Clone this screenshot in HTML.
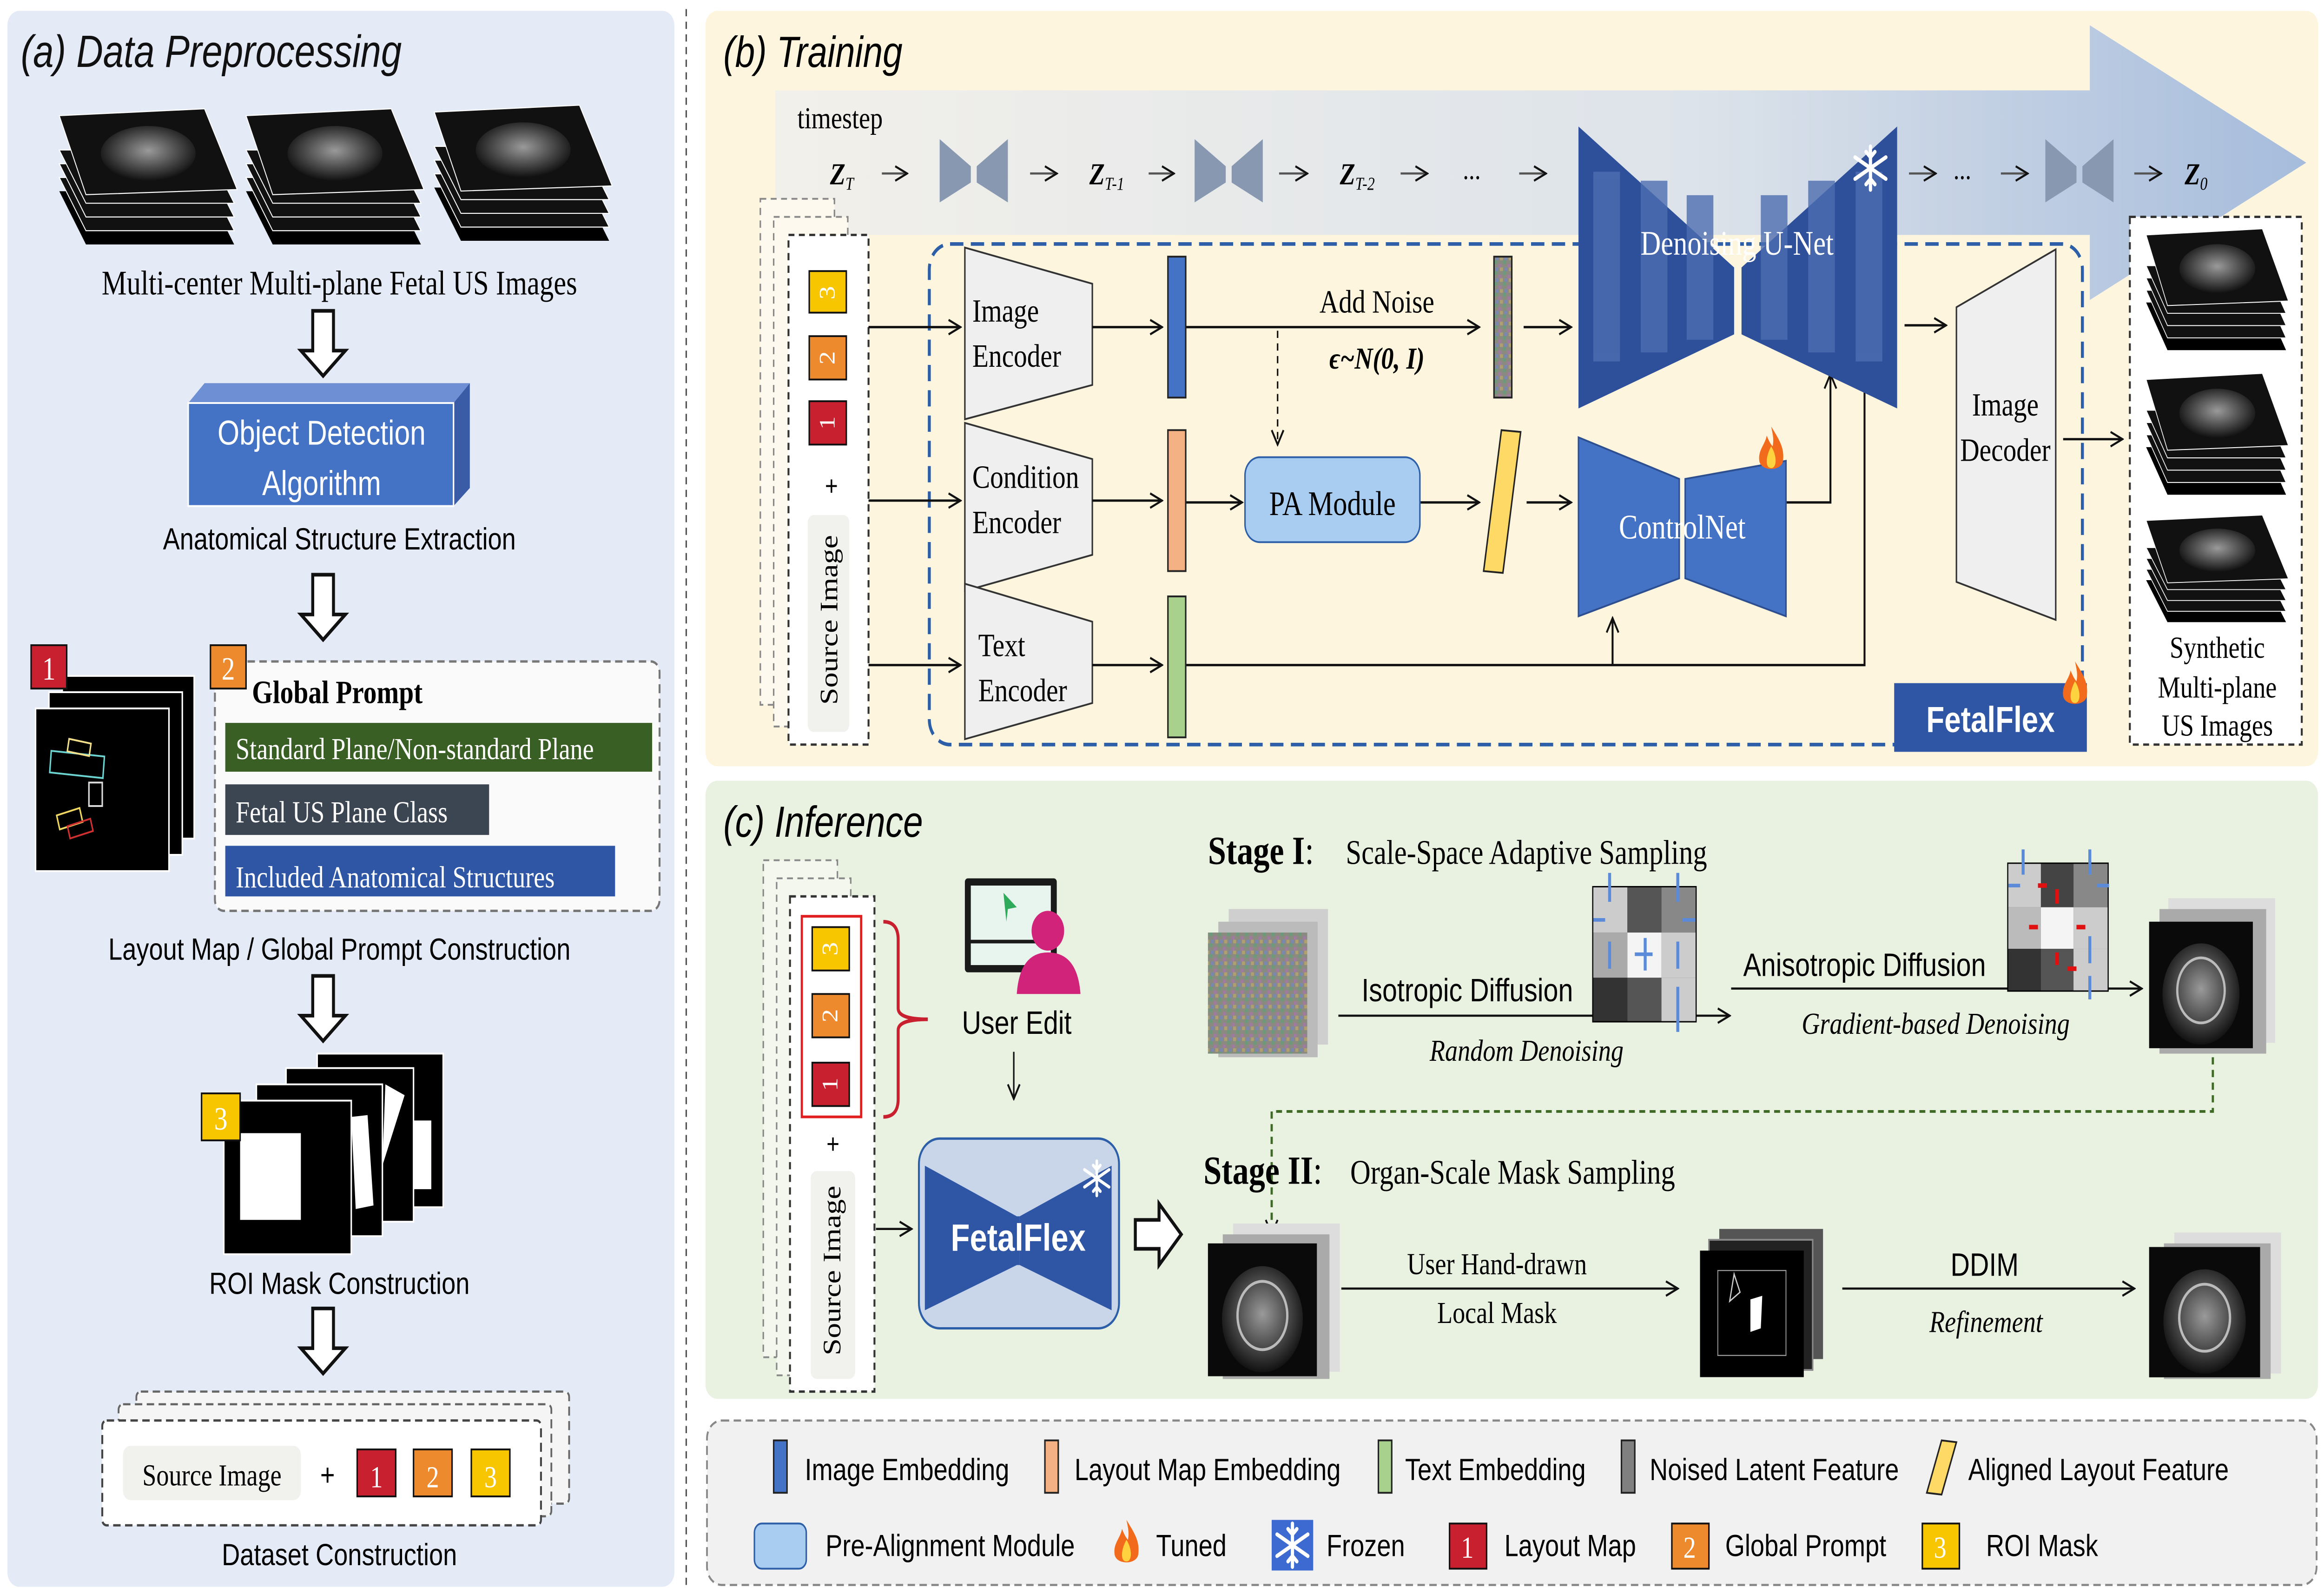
<!DOCTYPE html>
<html><head><meta charset="utf-8"><style>
html,body{margin:0;padding:0;background:#fff;width:100%;height:100%;overflow:hidden;}
svg#main{position:fixed;left:0;top:0;display:block;width:100vw;height:100vh;}
.s{font-family:"Liberation Sans",sans-serif;}
.r{font-family:"Liberation Serif",serif;}
</style></head><body>
<svg id="main" viewBox="0 0 1568 882" preserveAspectRatio="none" xmlns="http://www.w3.org/2000/svg">
<defs>
<radialGradient id="us" cx="50%" cy="45%" r="55%"><stop offset="0" stop-color="#9a9a9a"/><stop offset="0.5" stop-color="#555"/><stop offset="1" stop-color="#111"/></radialGradient>
<linearGradient id="big" x1="0" x2="1" y1="0" y2="0"><stop offset="0" stop-color="#f2f0ea"/><stop offset="0.6" stop-color="#dde3ea"/><stop offset="1" stop-color="#a6bcdc"/></linearGradient>
<pattern id="noise" width="6" height="6" patternUnits="userSpaceOnUse"><rect width="6" height="6" fill="#8a8a80"/><rect width="2" height="2" fill="#6a9a7a"/><rect x="3" y="2" width="2" height="2" fill="#a07aa0"/><rect x="1" y="4" width="2" height="2" fill="#7a88b0"/><rect x="4" y="4" width="2" height="2" fill="#b0a070"/></pattern>
<marker id="ar" markerWidth="10" markerHeight="10" refX="9" refY="5" orient="auto" markerUnits="userSpaceOnUse"><path d="M1,1 L9,5 L1,9" fill="none" stroke="#111" stroke-width="1.2"/></marker>
<g id="hollow"><path d="M-7,0 H7 V22 H15 L0,36 L-15,22 H-7 Z" fill="#fff" stroke="#111" stroke-width="2"/></g>
<g id="usimg"><rect width="70" height="70" fill="#0a0a0a"/><ellipse cx="35" cy="40" rx="26" ry="28" fill="url(#us)"/><ellipse cx="35" cy="38" rx="16" ry="18" fill="none" stroke="#bbb" stroke-width="1.5"/></g>
<g id="stackA"><path d="M0,44 L100,44 L118,75 L18,75 Z" fill="#000"/><path d="M0,36 L100,36 L118,67 L18,67 Z" fill="#111" stroke="#fff" stroke-width="0.6"/><path d="M0,28 L100,28 L118,59 L18,59 Z" fill="#111" stroke="#fff" stroke-width="0.6"/><path d="M0,20 L100,20 L118,51 L18,51 Z" fill="#111" stroke="#fff" stroke-width="0.6"/><path d="M0,0 L98,-4 L120,43 L18,46 Z" fill="#111" stroke="#fff" stroke-width="0.6"/><ellipse cx="60" cy="22" rx="32" ry="16" fill="url(#us)"/></g>
<g id="flame"><path d="M0,-14 C6,-6 9,-2 8,5 C7,11 -7,11 -8,5 C-9,-1 -4,-4 -3,-9 C-1,-5 0,-4 1,-3 C2,-7 1,-10 0,-14 Z" fill="#f26a1b"/><path d="M0,-3 C4,2 4,9 0,9 C-4,9 -4,3 0,-3 Z" fill="#ffd23f"/></g>
<g id="snow" stroke="#fff" stroke-width="2.2" stroke-linecap="round"><line x1="0" y1="-12" x2="0" y2="12"/><line x1="-10.4" y1="-6" x2="10.4" y2="6"/><line x1="-10.4" y1="6" x2="10.4" y2="-6"/><path d="M-3,-9 L0,-6 L3,-9 M-3,9 L0,6 L3,9" fill="none"/></g>
</defs>
<rect width="1568" height="882" fill="#fff"/>

<!-- ===== Panel A ===== -->
<rect x="5" y="6" width="450" height="872" rx="8" fill="#e4ebf7"/>
<line x1="463" y1="5" x2="463" y2="878" stroke="#555" stroke-width="1" stroke-dasharray="4,3"/>
<text x="14" y="37" class="s" font-size="25" font-style="italic" fill="#111">(a) Data Preprocessing</text>
<g transform="translate(40,64) scale(1,0.95)"><use href="#stackA"/></g>
<g transform="translate(166,64) scale(1,0.95)"><use href="#stackA"/></g>
<g transform="translate(293,62) scale(1,0.95)"><use href="#stackA"/></g>
<text x="229" y="163" class="r" font-size="19" text-anchor="middle">Multi-center Multi-plane Fetal US Images</text>
<use href="#hollow" x="218" y="172"/>
<path d="M127,223 L138,212 L317,212 L306,223 Z" fill="#6f8fd4"/>
<path d="M306,223 L317,212 L317,270 L306,280 Z" fill="#3a5ba5"/>
<rect x="127" y="223" width="179" height="57" fill="#4472c4" stroke="#fff" stroke-width="1"/>
<text x="217" y="246" class="s" font-size="19" fill="#fff" text-anchor="middle">Object Detection</text>
<text x="217" y="274" class="s" font-size="19" fill="#fff" text-anchor="middle">Algorithm</text>
<text x="229" y="304" class="s" font-size="17" text-anchor="middle">Anatomical Structure Extraction</text>
<use href="#hollow" x="218" y="318"/>
<!-- layout map -->
<rect x="42" y="374" width="89" height="90" fill="#000" stroke="#fff"/>
<rect x="33" y="383" width="90" height="90" fill="#000" stroke="#fff"/>
<rect x="24" y="392" width="90" height="90" fill="#000" stroke="#fff"/>
<rect x="34" y="417" width="36" height="12" fill="none" stroke="#6cd4d0" stroke-width="1" transform="rotate(5 52 423)"/>
<rect x="46" y="410" width="15" height="7" fill="none" stroke="#f4e08a" stroke-width="1" transform="rotate(10 53 413)"/>
<rect x="39" y="449" width="16" height="8" fill="none" stroke="#f0d860" stroke-width="1" transform="rotate(-15 47 453)"/>
<rect x="46" y="455" width="16" height="7" fill="none" stroke="#d03030" stroke-width="1" transform="rotate(-15 54 458)"/>
<rect x="60" y="433" width="9" height="13" fill="none" stroke="#ddd" stroke-width="1"/>
<rect x="21" y="357" width="24" height="24" fill="#c8202f" stroke="#111"/>
<text x="33" y="376" class="r" font-size="18" fill="#fff" text-anchor="middle">1</text>
<!-- global prompt -->
<rect x="145" y="366" width="300" height="138" rx="6" fill="#fafafa" stroke="#777" stroke-width="1.3" stroke-dasharray="5,3"/>
<rect x="142" y="357" width="24" height="24" fill="#ee8a2e" stroke="#111"/>
<text x="154" y="376" class="r" font-size="18" fill="#fff" text-anchor="middle">2</text>
<text x="170" y="389" class="r" font-size="18" font-weight="bold">Global  Prompt</text>
<rect x="152" y="400" width="288" height="27" fill="#3a5f24"/>
<text x="159" y="420" class="r" font-size="17" fill="#fff">Standard Plane/Non-standard Plane</text>
<rect x="152" y="434" width="178" height="28" fill="#3c4552"/>
<text x="159" y="455" class="r" font-size="17" fill="#fff">Fetal US Plane Class</text>
<rect x="152" y="468" width="263" height="28" fill="#2f55a5"/>
<text x="159" y="491" class="r" font-size="17" fill="#fff">Included Anatomical Structures</text>
<text x="229" y="531" class="s" font-size="17" text-anchor="middle">Layout Map / Global Prompt Construction</text>
<use href="#hollow" x="218" y="540"/>
<!-- ROI -->
<rect x="214" y="583" width="85" height="85" fill="#000" stroke="#fff"/>
<rect x="279" y="620" width="12" height="38" fill="#fff"/>
<rect x="193" y="591" width="86" height="85" fill="#000" stroke="#fff"/>
<path d="M260,600 L273,606 L258,645 Z" fill="#fff"/>
<rect x="173" y="600" width="85" height="84" fill="#000" stroke="#fff"/>
<path d="M237,618 L248,617 L252,667 L240,669 Z" fill="#fff"/>
<rect x="151" y="609" width="86" height="85" fill="#000" stroke="#fff"/>
<rect x="162" y="627" width="41" height="48" fill="#fff"/>
<rect x="136" y="605" width="26" height="26" fill="#f7c600" stroke="#111"/>
<text x="149" y="625" class="r" font-size="18" fill="#fff" text-anchor="middle">3</text>
<text x="229" y="716" class="s" font-size="17" text-anchor="middle">ROI Mask Construction</text>
<use href="#hollow" x="218" y="724"/>
<!-- dataset -->
<rect x="92" y="770" width="292" height="62" rx="3" fill="#f5f5f5" stroke="#666" stroke-width="1.2" stroke-dasharray="5,3"/>
<rect x="80" y="777" width="292" height="62" rx="3" fill="#f5f5f5" stroke="#666" stroke-width="1.2" stroke-dasharray="5,3"/>
<rect x="69" y="786" width="296" height="58" rx="3" fill="#fff" stroke="#444" stroke-width="1.3" stroke-dasharray="5,3"/>
<rect x="83" y="800" width="120" height="30" rx="5" fill="#f1f1ee"/>
<text x="143" y="822" class="r" font-size="17" text-anchor="middle">Source Image</text>
<text x="221" y="822" class="s" font-size="17" text-anchor="middle">+</text>
<rect x="241" y="802" width="26" height="26" fill="#c8202f" stroke="#111"/><text x="254" y="823" class="r" font-size="17" fill="#fff" text-anchor="middle">1</text>
<rect x="279" y="802" width="26" height="26" fill="#ee8a2e" stroke="#111"/><text x="292" y="823" class="r" font-size="17" fill="#fff" text-anchor="middle">2</text>
<rect x="318" y="802" width="26" height="26" fill="#f7c600" stroke="#111"/><text x="331" y="823" class="r" font-size="17" fill="#fff" text-anchor="middle">3</text>
<text x="229" y="866" class="s" font-size="17" text-anchor="middle">Dataset Construction</text>

<!-- ===== Panel B ===== -->
<rect x="476" y="6" width="1088" height="418" rx="8" fill="#fdf5de"/>
<polygon points="523,50 1410,50 1410,14 1556,90 1410,166 1410,130 523,130" fill="url(#big)"/>
<text x="488" y="37" class="s" font-size="24" font-style="italic">(b) Training</text>
<text x="538" y="71" class="r" font-size="17">timestep</text>
<g class="r" font-size="17" font-weight="bold" font-style="italic">
<text x="560" y="102">Z<tspan font-size="10" font-weight="normal" dy="3">T</tspan></text>
<text x="735" y="102">Z<tspan font-size="10" font-weight="normal" dy="3">T-1</tspan></text>
<text x="904" y="102">Z<tspan font-size="10" font-weight="normal" dy="3">T-2</tspan></text>
<text x="1474" y="102">Z<tspan font-size="10" font-weight="normal" dy="3">0</tspan></text>
</g>
<text x="987" y="99" class="r" font-size="16">...</text>
<text x="1318" y="99" class="r" font-size="16">...</text>
<g stroke="#555" stroke-width="1.2" fill="none" marker-end="url(#ar)">
<line x1="595" y1="96" x2="612" y2="96"/><line x1="695" y1="96" x2="713" y2="96"/><line x1="775" y1="96" x2="792" y2="96"/><line x1="863" y1="96" x2="882" y2="96"/><line x1="945" y1="96" x2="963" y2="96"/><line x1="1025" y1="96" x2="1043" y2="96"/><line x1="1288" y1="96" x2="1306" y2="96"/><line x1="1350" y1="96" x2="1368" y2="96"/><line x1="1440" y1="96" x2="1458" y2="96"/>
</g>
<g fill="#8798b0">
<polygon points="634,77 655,92 655,101 634,112"/><polygon points="659,92 680,77 680,112 659,101"/>
<polygon points="806,77 827,92 827,101 806,112"/><polygon points="831,92 852,77 852,112 831,101"/>
<polygon points="1380,77 1401,92 1401,101 1380,112"/><polygon points="1405,92 1426,77 1426,112 1405,101"/>
</g>
<!-- source stack -->
<rect x="513" y="110" width="50" height="280" fill="#fdf9ee" stroke="#888" stroke-dasharray="4,3"/>
<rect x="522" y="120" width="50" height="282" fill="#fdf9ee" stroke="#888" stroke-dasharray="4,3"/>
<rect x="532" y="130" width="54" height="282" fill="#fff" stroke="#333" stroke-width="1.3" stroke-dasharray="4,3"/>
<rect x="546" y="150" width="25" height="23" fill="#f7c600" stroke="#111"/><text x="558" y="162" class="r" font-size="15" fill="#fff" text-anchor="middle" transform="rotate(-90 558 162)" dy="5">3</text>
<rect x="546" y="186" width="25" height="24" fill="#ee8a2e" stroke="#111"/><text x="558" y="198" class="r" font-size="15" fill="#fff" text-anchor="middle" transform="rotate(-90 558 198)" dy="5">2</text>
<rect x="546" y="222" width="25" height="24" fill="#c8202f" stroke="#111"/><text x="558" y="234" class="r" font-size="15" fill="#fff" text-anchor="middle" transform="rotate(-90 558 234)" dy="5">1</text>
<text x="561" y="274" class="s" font-size="15" text-anchor="middle">+</text>
<rect x="545" y="285" width="28" height="120" rx="4" fill="#f1f1ee"/>
<text x="565" y="343" class="r" font-size="17" text-anchor="middle" transform="rotate(-90 565 343)">Source Image</text>
<rect x="627" y="135" width="778" height="277" rx="14" fill="none" stroke="#2d5fa8" stroke-width="2" stroke-dasharray="9,5"/>
<!-- encoders -->
<g fill="#efefef" stroke="#333" stroke-width="1">
<polygon points="651,137 737,157 737,213 651,232"/>
<polygon points="651,234 737,254 737,307 651,327"/>
<polygon points="651,323 737,344 737,389 651,409"/>
</g>
<g class="r" font-size="18">
<text x="656" y="178">Image</text><text x="656" y="203">Encoder</text>
<text x="656" y="270">Condition</text><text x="656" y="295">Encoder</text>
<text x="660" y="363">Text</text><text x="660" y="388">Encoder</text>
</g>
<g stroke="#111" stroke-width="1.3" fill="none" marker-end="url(#ar)">
<line x1="586" y1="181" x2="648" y2="181"/><line x1="586" y1="277" x2="648" y2="277"/><line x1="586" y1="368" x2="648" y2="368"/>
<line x1="737" y1="181" x2="784" y2="181"/><line x1="737" y1="277" x2="784" y2="277"/><line x1="737" y1="368" x2="784" y2="368"/>
<line x1="800" y1="181" x2="998" y2="181"/>
<line x1="1028" y1="181" x2="1060" y2="181"/>
<line x1="800" y1="278" x2="838" y2="278"/>
<line x1="958" y1="278" x2="998" y2="278"/>
<line x1="1030" y1="278" x2="1060" y2="278"/>
<polyline points="1205,278 1235,278 1235,207"/>
<polyline points="800,368 1258,368 1258,207"/>
<line x1="1088" y1="368" x2="1088" y2="342"/>
<line x1="1285" y1="180" x2="1313" y2="180"/>
<line x1="1392" y1="243" x2="1432" y2="243"/>
</g>
<line x1="862" y1="183" x2="862" y2="246" stroke="#111" stroke-width="1" stroke-dasharray="4,3" marker-end="url(#ar)"/>
<rect x="788" y="142" width="12" height="78" fill="#4472c4" stroke="#222"/>
<rect x="788" y="238" width="12" height="78" fill="#f4b183" stroke="#222"/>
<rect x="788" y="330" width="12" height="78" fill="#a9d18e" stroke="#222"/>
<rect x="1008" y="142" width="12" height="78" fill="url(#noise)" stroke="#222"/>
<text x="929" y="173" class="r" font-size="18" text-anchor="middle">Add Noise</text>
<text x="929" y="204" class="r" font-size="17" font-weight="bold" font-style="italic" text-anchor="middle">ϵ~N(0, I)</text>
<rect x="840" y="253" width="118" height="47" rx="10" fill="#a9cdf0" stroke="#2d5fa8"/>
<text x="899" y="285" class="r" font-size="19" text-anchor="middle">PA Module</text>
<polygon points="1013,238 1026,239 1014,317 1001,316" fill="#ffd966" stroke="#222"/>
<!-- UNet -->
<polygon points="1065,70 1170,148 1170,185 1065,226" fill="#2e4f9a"/>
<polygon points="1175,148 1280,70 1280,226 1175,185" fill="#2e4f9a"/>
<g fill="#4d6eb0" opacity="0.8">
<rect x="1075" y="95" width="18" height="105"/><rect x="1107" y="100" width="18" height="95"/><rect x="1138" y="108" width="18" height="80"/>
<rect x="1188" y="108" width="18" height="80"/><rect x="1220" y="100" width="18" height="95"/><rect x="1252" y="95" width="18" height="105"/>
</g>
<text x="1172" y="141" class="r" font-size="19" fill="#fff" text-anchor="middle">Denoising U-Net</text>
<use href="#snow" x="1262" y="93"/>
<!-- ControlNet -->
<polygon points="1065,242 1133,265 1133,320 1065,341" fill="#4472c4" stroke="#2d4f90"/>
<polygon points="1137,265 1205,255 1205,341 1137,320" fill="#4472c4" stroke="#2d4f90"/>
<text x="1135" y="298" class="r" font-size="19" fill="#fff" text-anchor="middle">ControlNet</text>
<use href="#flame" x="1195" y="250"/>
<!-- decoder -->
<polygon points="1320,170 1387,138 1387,343 1320,322" fill="#efefef" stroke="#333"/>
<text x="1353" y="230" class="r" font-size="18" text-anchor="middle">Image</text>
<text x="1353" y="255" class="r" font-size="18" text-anchor="middle">Decoder</text>
<rect x="1278" y="378" width="130" height="38" fill="#2f55a5"/>
<text x="1343" y="405" class="s" font-size="20" font-weight="bold" fill="#fff" text-anchor="middle">FetalFlex</text>
<use href="#flame" x="1400" y="380"/>
<!-- synthetic -->
<rect x="1437" y="120" width="116" height="292" fill="#fff" stroke="#333" stroke-width="1.3" stroke-dasharray="4,3"/>
<g transform="translate(1448,130) scale(0.8,0.85)"><use href="#stackA"/></g>
<g transform="translate(1448,210) scale(0.8,0.85)"><use href="#stackA"/></g>
<g transform="translate(1448,288) scale(0.8,0.75)"><use href="#stackA"/></g>
<text x="1496" y="364" class="r" font-size="17" text-anchor="middle">Synthetic</text>
<text x="1496" y="386" class="r" font-size="17" text-anchor="middle">Multi-plane</text>
<text x="1496" y="407" class="r" font-size="17" text-anchor="middle">US Images</text>

<!-- ===== Panel C ===== -->
<rect x="476" y="432" width="1088" height="342" rx="8" fill="#e9f1e0"/>
<text x="488" y="463" class="s" font-size="24" font-style="italic">(c) Inference</text>
<rect x="515" y="476" width="50" height="275" fill="#f3f7ee" stroke="#888" stroke-dasharray="4,3"/>
<rect x="524" y="486" width="50" height="275" fill="#f3f7ee" stroke="#888" stroke-dasharray="4,3"/>
<rect x="533" y="496" width="57" height="274" fill="#fff" stroke="#333" stroke-width="1.3" stroke-dasharray="4,3"/>
<rect x="541" y="507" width="40" height="111" fill="none" stroke="#e02020" stroke-width="1.5"/>
<rect x="548" y="513" width="25" height="24" fill="#f7c600" stroke="#111"/><text x="560" y="525" class="r" font-size="15" fill="#fff" text-anchor="middle" transform="rotate(-90 560 525)" dy="5">3</text>
<rect x="548" y="550" width="25" height="24" fill="#ee8a2e" stroke="#111"/><text x="560" y="562" class="r" font-size="15" fill="#fff" text-anchor="middle" transform="rotate(-90 560 562)" dy="5">2</text>
<rect x="548" y="588" width="25" height="24" fill="#c8202f" stroke="#111"/><text x="560" y="600" class="r" font-size="15" fill="#fff" text-anchor="middle" transform="rotate(-90 560 600)" dy="5">1</text>
<text x="562" y="638" class="s" font-size="15" text-anchor="middle">+</text>
<rect x="547" y="648" width="30" height="115" rx="4" fill="#f1f1ee"/>
<text x="567" y="703" class="r" font-size="17" text-anchor="middle" transform="rotate(-90 567 703)">Source Image</text>
<path d="M596,510 Q606,510 606,520 L606,558 Q606,564 626,564 Q606,564 606,570 L606,608 Q606,618 596,618" fill="none" stroke="#c8202f" stroke-width="2"/>
<!-- user -->
<rect x="651" y="486" width="62" height="52" rx="2" fill="#1a1a1a"/>
<rect x="655" y="490" width="54" height="30" fill="#e8f5ee"/>
<rect x="655" y="522" width="54" height="12" fill="#e8f5ee"/>
<path d="M677,494 L686,502 L680,503 L679,510 Z" fill="#2eaa5a"/>
<circle cx="707" cy="515" r="11" fill="#d1237a"/>
<path d="M686,550 Q688,527 707,527 Q727,527 729,550 Z" fill="#d1237a"/>
<text x="686" y="572" class="s" font-size="18" text-anchor="middle">User Edit</text>
<line x1="684" y1="582" x2="684" y2="608" stroke="#111" stroke-width="1" marker-end="url(#ar)"/>
<rect x="620" y="630" width="135" height="105" rx="14" fill="#c9d6ea" stroke="#2d5fa8" stroke-width="1.3"/>
<polygon points="624,645 686,673 686,700 624,725" fill="#2f55a5"/>
<polygon points="688,673 750,645 750,725 688,700" fill="#2f55a5"/>
<polygon points="686,673 688,673 688,700 686,700" fill="#2f55a5"/>
<text x="687" y="692" class="s" font-size="21" font-weight="bold" fill="#fff" text-anchor="middle">FetalFlex</text>
<g transform="translate(740 652) scale(0.8)"><use href="#snow"/></g>
<line x1="591" y1="680" x2="615" y2="680" stroke="#111" stroke-width="1.2" marker-end="url(#ar)"/>
<path d="M766,675 H782 V666 L797,683 L782,700 V691 H766 Z" fill="#fff" stroke="#111" stroke-width="2"/>
<!-- stage I -->
<text x="815" y="478" class="r" font-size="22" font-weight="bold">Stage I<tspan font-weight="normal">:</tspan></text>
<text x="908" y="478" class="r" font-size="19">Scale-Space Adaptive Sampling</text>
<rect x="829" y="503" width="67" height="75" fill="#cfcfcf"/>
<rect x="822" y="510" width="67" height="75" fill="#bbb"/>
<rect x="815" y="516" width="67" height="67" fill="url(#noise)"/>
<text x="990" y="554" class="s" font-size="18" text-anchor="middle">Isotropic Diffusion</text>
<line x1="903" y1="562" x2="1167" y2="562" stroke="#111" stroke-width="1.2" marker-end="url(#ar)"/>
<text x="1030" y="587" class="r" font-size="17" font-style="italic" text-anchor="middle">Random Denoising</text>
<g transform="translate(1075,491)">
<rect width="69" height="74" fill="#333" stroke="#000" stroke-width="1.5"/>
<rect width="23" height="25" fill="#ccc"/><rect x="23" width="23" height="25" fill="#555"/><rect x="46" width="23" height="25" fill="#888"/>
<rect y="25" width="23" height="25" fill="#aaa"/><rect x="23" y="25" width="23" height="25" fill="#f4f4f4"/><rect x="46" y="25" width="23" height="25" fill="#ccc"/>
<rect y="50" width="23" height="24" fill="#333"/><rect x="23" y="50" width="23" height="24" fill="#555"/><rect x="46" y="50" width="23" height="24" fill="#ccc"/>
<g stroke="#5b8bd8" stroke-width="2"><line x1="0" y1="18" x2="8" y2="18"/><line x1="60" y1="18" x2="69" y2="18"/><line x1="11" y1="30" x2="11" y2="45"/><line x1="57" y1="30" x2="57" y2="45"/><line x1="28" y1="37" x2="40" y2="37"/><line x1="35" y1="28" x2="35" y2="46"/><line x1="57" y1="55" x2="57" y2="80"/><line x1="11" y1="-8" x2="11" y2="8"/><line x1="57" y1="-8" x2="57" y2="8"/></g>
</g>
<text x="1258" y="540" class="s" font-size="18" text-anchor="middle">Anisotropic Diffusion</text>
<line x1="1168" y1="547" x2="1445" y2="547" stroke="#111" stroke-width="1.2" marker-end="url(#ar)"/>
<text x="1306" y="572" class="r" font-size="17" font-style="italic" text-anchor="middle">Gradient-based  Denoising</text>
<g transform="translate(1355,478)">
<rect width="67" height="70" fill="#333" stroke="#000" stroke-width="1.5"/>
<rect width="22" height="24" fill="#ccc"/><rect x="22" width="22" height="24" fill="#444"/><rect x="44" width="23" height="24" fill="#888"/>
<rect y="24" width="22" height="23" fill="#bbb"/><rect x="22" y="24" width="22" height="23" fill="#f4f4f4"/><rect x="44" y="24" width="23" height="23" fill="#ccc"/>
<rect y="47" width="22" height="23" fill="#333"/><rect x="22" y="47" width="22" height="23" fill="#555"/><rect x="44" y="47" width="23" height="23" fill="#ccc"/>
<g stroke="#e01010" stroke-width="2.5"><line x1="33" y1="14" x2="33" y2="22"/><line x1="33" y1="49" x2="33" y2="56"/><line x1="14" y1="35" x2="20" y2="35"/><line x1="46" y1="35" x2="52" y2="35"/><line x1="20" y1="12" x2="26" y2="12"/><line x1="40" y1="58" x2="46" y2="58"/></g>
<g stroke="#5b8bd8" stroke-width="2"><line x1="0" y1="12" x2="8" y2="12"/><line x1="60" y1="12" x2="68" y2="12"/><line x1="55" y1="-8" x2="55" y2="6"/><line x1="10" y1="-8" x2="10" y2="6"/><line x1="55" y1="40" x2="55" y2="55"/><line x1="55" y1="62" x2="55" y2="75"/></g>
</g>
<rect x="1463" y="497" width="72" height="80" fill="#ddd"/>
<rect x="1457" y="503" width="72" height="80" fill="#aaa"/>
<use href="#usimg" x="1450" y="510"/>
<polyline points="1493,585 1493,615 858,615 858,683" fill="none" stroke="#3f6a25" stroke-width="1.5" stroke-dasharray="4,3" marker-end="url(#ar)"/>
<!-- stage II -->
<text x="812" y="655" class="r" font-size="22" font-weight="bold">Stage II<tspan font-weight="normal">:</tspan></text>
<text x="911" y="655" class="r" font-size="19">Organ-Scale  Mask Sampling</text>
<rect x="832" y="677" width="72" height="82" fill="#ddd"/>
<rect x="825" y="683" width="72" height="80" fill="#aaa"/>
<g transform="translate(815,688) scale(1.05,1.05)"><use href="#usimg"/></g>
<text x="1010" y="705" class="r" font-size="17" text-anchor="middle">User Hand-drawn</text>
<line x1="905" y1="713" x2="1132" y2="713" stroke="#111" stroke-width="1.2" marker-end="url(#ar)"/>
<text x="1010" y="732" class="r" font-size="17" text-anchor="middle">Local Mask</text>
<rect x="1160" y="680" width="70" height="72" fill="#555"/>
<rect x="1153" y="686" width="70" height="72" fill="#222" stroke="#888"/>
<rect x="1147" y="692" width="70" height="70" fill="#000"/>
<rect x="1159" y="703" width="46" height="47" fill="none" stroke="#999" stroke-width="0.6"/>
<path d="M1170,705 L1174,715 L1167,720 Z" fill="none" stroke="#ccc" stroke-width="0.8"/>
<path d="M1181,719 L1189,717 L1188,735 L1181,737 Z" fill="#fff"/>
<text x="1339" y="706" class="s" font-size="18" text-anchor="middle">DDIM</text>
<line x1="1243" y1="713" x2="1440" y2="713" stroke="#111" stroke-width="1.2" marker-end="url(#ar)"/>
<text x="1340" y="737" class="r" font-size="17" font-style="italic" text-anchor="middle">Refinement</text>
<rect x="1467" y="682" width="72" height="78" fill="#ddd"/>
<rect x="1460" y="688" width="72" height="75" fill="#aaa"/>
<g transform="translate(1450,690) scale(1.07,1.03)"><use href="#usimg"/></g>

<!-- ===== Legend ===== -->
<rect x="477" y="786" width="1086" height="91" rx="10" fill="#f1f1f1" stroke="#888" stroke-width="1.2" stroke-dasharray="5,3"/>
<g class="s" font-size="17">
<rect x="522" y="797" width="9" height="29" fill="#4472c4" stroke="#222"/><text x="543" y="819">Image  Embedding</text>
<rect x="705" y="797" width="9" height="29" fill="#f4b183" stroke="#222"/><text x="725" y="819">Layout Map  Embedding</text>
<rect x="930" y="797" width="9" height="29" fill="#a9d18e" stroke="#222"/><text x="948" y="819">Text Embedding</text>
<rect x="1094" y="797" width="9" height="29" fill="#808080" stroke="#222"/><text x="1113" y="819">Noised Latent Feature</text>
<polygon points="1310,797 1320,798 1310,827 1300,826" fill="#ffd966" stroke="#222"/><text x="1328" y="819">Aligned Layout Feature</text>
<rect x="509" y="843" width="35" height="25" rx="5" fill="#a9cdf0" stroke="#2d5fa8"/><text x="557" y="861">Pre-Alignment Module</text>
<use href="#flame" x="760" y="855"/><text x="780" y="861">Tuned</text>
<rect x="858" y="841" width="28" height="28" fill="#3c6ad0"/><use href="#snow" x="872" y="855"/><text x="895" y="861">Frozen</text>
<rect x="978" y="843" width="25" height="25" fill="#c8202f" stroke="#111"/><text x="990" y="862" class="r" fill="#fff" text-anchor="middle">1</text><text x="1015" y="861">Layout Map</text>
<rect x="1128" y="843" width="25" height="25" fill="#ee8a2e" stroke="#111"/><text x="1140" y="862" class="r" fill="#fff" text-anchor="middle">2</text><text x="1164" y="861">Global Prompt</text>
<rect x="1297" y="843" width="25" height="25" fill="#f7c600" stroke="#111"/><text x="1309" y="862" class="r" fill="#fff" text-anchor="middle">3</text><text x="1340" y="861">ROI Mask</text>
</g>
</svg>
</body></html>
